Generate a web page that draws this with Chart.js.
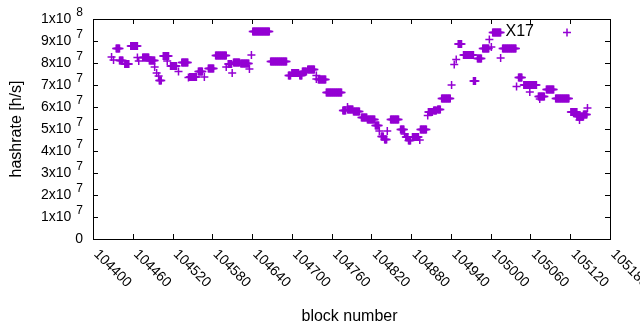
<!DOCTYPE html>
<html>
<head>
<meta charset="utf-8">
<script src="https://cdn.jsdelivr.net/npm/chart.js@4/dist/chart.umd.min.js"></script>
<style>
	html, body { margin: 0; padding: 0; background: #fff; }
</style>
</head>
<body>
<canvas id="chart" width="640" height="330"></canvas>
<script>
const seriesName = 'X17'
const xTitle = 'block number'
const yTitle = 'hashrate [h/s]'

// runs of consecutive blocks sharing one hashrate
// first block, last block, hashrate in millions of h/s
const runStart = [104428, 104431, 104435, 104440, 104448, 104457, 104467, 104469, 104475, 104485,
	104493, 104496, 104499, 104500, 104506, 104512, 104517, 104529, 104534, 104544,
	104546, 104559, 104568, 104574, 104585, 104601, 104604, 104610, 104612, 104623,
	104636, 104639, 104641, 104668, 104695, 104700, 104712, 104716, 104724, 104737,
	104737, 104740, 104752, 104777, 104784, 104784, 104793, 104805, 104814, 104826,
	104832, 104844, 104835, 104840, 104849, 104864, 104870, 104872, 104876, 104882,
	104893, 104894, 104905, 104906, 104914, 104920, 104926, 104941, 104945, 104948,
	104951, 104959, 104974, 104980, 104988, 104998, 105001, 105003, 105015, 105018,
	105039, 105042, 105050, 105059, 105072, 105074, 105084, 105098, 105121, 105130,
	105134, 105140, 105146]
const runEnd = [104428, 104431, 104440, 104445, 104454, 104467, 104467, 104469, 104484, 104493,
	104493, 104496, 104499, 104503, 104514, 104512, 104526, 104529, 104543, 104544,
	104556, 104565, 104568, 104582, 104601, 104601, 104609, 104610, 104621, 104635,
	104636, 104639, 104666, 104692, 104698, 104710, 104715, 104722, 104734, 104737,
	104737, 104751, 104775, 104781, 104784, 104792, 104802, 104813, 104825, 104831,
	104832, 104844, 104838, 104843, 104861, 104869, 104870, 104875, 104879, 104891,
	104893, 104903, 104905, 104912, 104918, 104924, 104939, 104941, 104945, 104948,
	104956, 104974, 104977, 104986, 104997, 104998, 105001, 105015, 105015, 105038,
	105039, 105047, 105069, 105059, 105081, 105074, 105095, 105118, 105130, 105140,
	105134, 105145, 105146]
const runRate = [82.7, 81.4, 86.6, 81.1, 79.5, 87.7, 82.5, 80.9, 82.5, 81.1,
	78.2, 75.5, 74.1, 72.0, 83.2, 80.9, 78.6, 76.1, 80.2, 73.4,
	73.6, 76.1, 73.6, 77.5, 83.4, 78.2, 79.5, 75.5, 80.2, 79.8,
	77.3, 83.6, 94.3, 80.7, 74.3, 75.4, 74.3, 76.1, 77.0, 74.3,
	72.7, 72.5, 66.6, 58.4, 60.0, 58.9, 58.0, 55.2, 54.3, 51.6,
	49.1, 49.1, 46.6, 45.2, 54.3, 49.8, 47.7, 46.4, 44.8, 46.4,
	45.0, 49.8, 56.1, 57.7, 58.4, 58.9, 63.9, 70.0, 79.3, 81.6,
	88.6, 83.6, 71.8, 82.0, 86.6, 90.7, 87.3, 93.9, 82.3, 86.6,
	69.3, 73.4, 70.0, 66.8, 64.8, 63.6, 68.0, 63.9, 57.7, 55.7,
	54.1, 56.6, 59.5]

const xTicks = [104400, 104460, 104520, 104580, 104640, 104700, 104760, 104820,
	104880, 104940, 105000, 105060, 105120, 105180]
const yTicks = [0, 1e7, 2e7, 3e7, 4e7, 5e7, 6e7, 7e7, 8e7, 9e7, 1e8]
const yTickBase = ['0', '1x10', '2x10', '3x10', '4x10', '5x10', '6x10', '7x10', '8x10', '9x10', '1x10']
const yTickExp = ['', '7', '7', '7', '7', '7', '7', '7', '7', '7', '8']

const points = []
runStart.forEach((s, i) => {
	for (let b = s; b <= runEnd[i]; b++) points.push({ x: b, y: runRate[i] * 1e6 })
})

const purple = '#9400d3'
const font = '"Liberation Sans", Arial, sans-serif'
const tickSize = 14
const titleSize = 16

const gnuplotFrame = {
	id: 'gnuplotFrame',
	beforeDatasetsDraw(chart) {
		const { ctx, chartArea: a } = chart
		const xs = chart.scales.x
		const ys = chart.scales.y
		const tick = 5
		ctx.save()
		ctx.strokeStyle = '#000'
		ctx.lineWidth = 1
		ctx.strokeRect(a.left + 0.5, a.top + 0.5, a.right - a.left, a.bottom - a.top)
		ctx.beginPath()
		yTicks.forEach(v => {
			const py = Math.round(ys.getPixelForValue(v)) + 0.5
			ctx.moveTo(a.left, py)
			ctx.lineTo(a.left + tick, py)
			ctx.moveTo(a.right, py)
			ctx.lineTo(a.right - tick, py)
		})
		xTicks.forEach(v => {
			const px = Math.round(xs.getPixelForValue(v)) + 0.5
			ctx.moveTo(px, a.bottom)
			ctx.lineTo(px, a.bottom - tick)
			ctx.moveTo(px, a.top)
			ctx.lineTo(px, a.top + tick)
		})
		ctx.stroke()

		ctx.fillStyle = '#000'
		ctx.textBaseline = 'middle'
		// y tick labels with raised exponent
		yTicks.forEach((v, i) => {
			const py = ys.getPixelForValue(v)
			const right = a.left - 10
			ctx.font = '12px ' + font
			const ew = yTickExp[i] ? ctx.measureText(yTickExp[i]).width : 0
			ctx.textAlign = 'right'
			ctx.fillText(yTickExp[i], right, py - 6)
			ctx.font = tickSize + 'px ' + font
			ctx.fillText(yTickBase[i], right - (ew ? ew + 5 : 0), py)
		})
		// x tick labels, rotated downwards
		ctx.font = tickSize + 'px ' + font
		ctx.textAlign = 'left'
		xTicks.forEach(v => {
			const px = xs.getPixelForValue(v)
			ctx.save()
			ctx.translate(px + 3, a.bottom + 13)
			ctx.rotate(Math.PI / 4)
			ctx.fillText(String(v), 0, 0)
			ctx.restore()
		})
		// axis titles
		ctx.font = titleSize + 'px ' + font
		ctx.textAlign = 'center'
		ctx.fillText(xTitle, (a.left + a.right) / 2 - 2, 317)
		ctx.save()
		ctx.translate(17, (a.top + a.bottom) / 2)
		ctx.rotate(-Math.PI / 2)
		ctx.fillText(yTitle, 0, 0)
		ctx.restore()
		// key
		ctx.textAlign = 'right'
		ctx.fillText(seriesName, 534, 32)
		ctx.strokeStyle = purple
		ctx.lineWidth = 1.5
		ctx.beginPath()
		ctx.moveTo(563, 32.5)
		ctx.lineTo(571, 32.5)
		ctx.moveTo(567, 28.5)
		ctx.lineTo(567, 36.5)
		ctx.stroke()
		ctx.restore()
	},
}

new Chart(document.getElementById('chart').getContext('2d'), {
	type: 'scatter',
	data: {
		datasets: [
			{
				label: seriesName,
				data: points,
				pointStyle: 'cross',
				pointRadius: 4,
				pointBorderWidth: 1.5,
				borderColor: purple,
				backgroundColor: purple,
			},
		],
	},
	options: {
		responsive: false,
		animation: false,
		devicePixelRatio: 1,
		layout: { padding: { top: 19, right: 30, left: 0, bottom: 0 } },
		scales: {
			x: {
				type: 'linear',
				min: 104400,
				max: 105180,
				grid: { display: false },
				border: { display: false },
				ticks: { display: false },
				afterFit: s => { s.height = 91 },
			},
			y: {
				min: 0,
				max: 1e8,
				grid: { display: false },
				border: { display: false },
				ticks: { display: false },
				afterFit: s => { s.width = 93 },
			},
		},
		plugins: {
			legend: { display: false },
			tooltip: { enabled: false },
		},
	},
	plugins: [gnuplotFrame],
})
</script>
</body>
</html>
